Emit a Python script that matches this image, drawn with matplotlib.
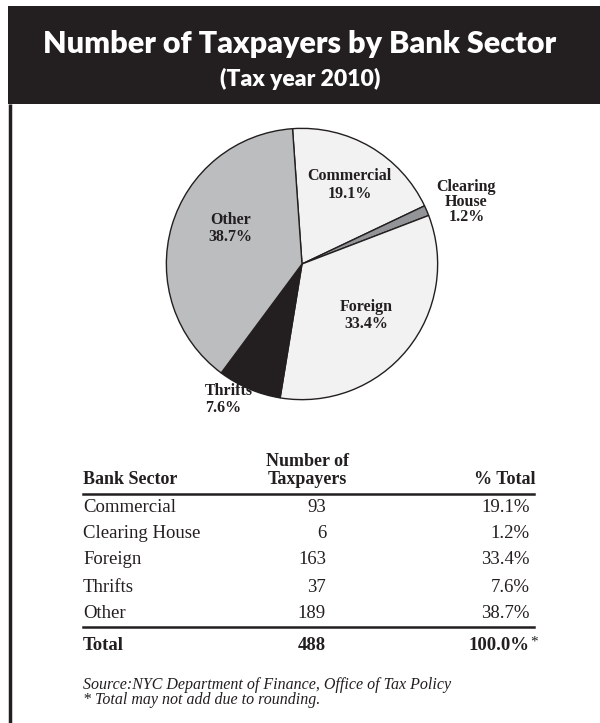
import matplotlib
matplotlib.use("Agg")
import matplotlib.pyplot as plt
from matplotlib.patches import Rectangle

# ---- data ----
sectors = ["Commercial", "Clearing House", "Foreign", "Thrifts", "Other"]
counts = [93, 6, 163, 37, 189]
pct_labels = ["19.1%", "1.2%", "33.4%", "7.6%", "38.7%"]
total_count = 488
total_pct = "100.0%"
pie_label_names = ["Commercial", "Clearing\nHouse", "Foreign", "Thrifts", "Other"]
slice_colors = ["#f2f2f2", "#929497", "#f2f2f2", "#231f20", "#bcbdbf"]

title = "Number of Taxpayers by Bank Sector"
subtitle = "(Tax year 2010)"
source = "Source:NYC Department of Finance, Office of Tax Policy"
footnote = "* Total may not add due to rounding."

W, H = 600, 723
fig = plt.figure(figsize=(W / 100, H / 100), dpi=100)
fig.patch.set_facecolor("white")

bg = fig.add_axes([0, 0, 1, 1])
bg.set_xlim(0, W)
bg.set_ylim(H, 0)
bg.axis("off")

DARK = "#231f20"
SERIF = ["Liberation Serif", "DejaVu Serif"]
SANS = ["Lato", "DejaVu Sans"]

# header
bg.add_patch(Rectangle((8, 6), 592, 98, facecolor=DARK, edgecolor="none"))
bg.plot([9.5, 9.5], [104, H], color=DARK, lw=2.5, solid_capstyle="butt")
bg.text(300, 44, title, color="white", fontsize=22, fontweight="heavy",
        family=SANS, ha="center", va="center")
bg.text(300, 79, subtitle, color="white", fontsize=16.5, fontweight="heavy",
        family=SANS, ha="center", va="center")

# pie
cx, cy, r = 302, 264, 137
pax = fig.add_axes([(cx - r) / W, 1 - (cy + r) / H, 2 * r / W, 2 * r / H])
pax.pie(counts, colors=slice_colors, startangle=94, counterclock=False,
        wedgeprops=dict(edgecolor=DARK, linewidth=1.0))
pax.set_xlim(-1.01, 1.01)
pax.set_ylim(-1.01, 1.01)
pax.set_aspect("equal")
pax.axis("off")

def P(x, y):
    return ((x - cx) / r, (cy - y) / r)

lab_pos = {
    "Commercial": (350, 184, "center"),
    "Clearing House": (468, 201, "center"),
    "Foreign": (367, 316, "center"),
    "Thrifts": (204, 401, "left"),
    "Other": (230, 228, "center"),
}
for name, pname, pct in zip(sectors, pie_label_names, pct_labels):
    x, y, ha = lab_pos[name]
    ls = 0.92 if name == "Clearing House" else 1.12
    tx, ty = P(x, y)
    pax.text(tx, ty, pname + "\n" + pct, ha=ha, va="center", fontsize=11.5,
             fontweight="bold", family=SERIF, color=DARK, linespacing=ls,
             multialignment="center" if ha == "center" else "left",
             clip_on=False)

# table
xl, xn, xp, xr_end = 83, 326, 530, 534
bg.text(xl, 484, "Bank Sector", fontsize=13, fontweight="bold", family=SERIF,
        color=DARK, ha="left", va="baseline")
bg.text(307, 484, "Number of\nTaxpayers", fontsize=13, fontweight="bold",
        family=SERIF, color=DARK, ha="center", va="baseline", linespacing=1.08)
bg.text(536, 484, "% Total", fontsize=13, fontweight="bold", family=SERIF,
        color=DARK, ha="right", va="baseline")
bg.plot([xl, xr_end], [494, 494], color=DARK, lw=1.8)

row_y = [507, 533, 560, 587, 613]
for name, c, p, y in zip(sectors, counts, pct_labels, row_y):
    bg.text(xl, y, name, fontsize=13.5, family=SERIF, color=DARK, ha="left", va="center")
    bg.text(xn, y, str(c), fontsize=13.5, family=SERIF, color=DARK, ha="right", va="center")
    bg.text(xp, y, p, fontsize=13.5, family=SERIF, color=DARK, ha="right", va="center")
bg.plot([xl, xr_end], [627, 627], color=DARK, lw=1.8)

bg.text(xl, 645, "Total", fontsize=13.5, fontweight="bold", family=SERIF,
        color=DARK, ha="left", va="center")
bg.text(xn, 645, str(total_count), fontsize=13.5, fontweight="bold", family=SERIF,
        color=DARK, ha="right", va="center")
bg.text(xp, 645, total_pct, fontsize=13.5, fontweight="bold", family=SERIF,
        color=DARK, ha="right", va="center")
bg.text(xp, 642, "*", fontsize=11, family=SERIF, color=DARK, ha="left", va="center")

bg.text(xl, 685, source, fontsize=11.5, style="italic", family=SERIF,
        color=DARK, ha="left", va="center")
bg.text(xl, 700, footnote, fontsize=11.5, style="italic", family=SERIF,
        color=DARK, ha="left", va="center")

fig.savefig("out.png", dpi=100, facecolor="white")
